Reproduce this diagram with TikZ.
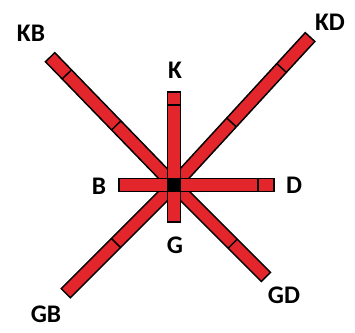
\documentclass[tikz,border=0pt]{standalone}
\usepackage{fontspec}
\setmainfont{Carlito}
\usetikzlibrary{positioning,calc}
\definecolor{armred}{HTML}{E2262B}

\begin{document}
\begin{tikzpicture}[x=0.75pt,y=0.75pt,
  arm/.style={draw=black,line width=1.1pt,fill=armred,line join=miter},
  cut/.style={draw=black,line width=1.1pt},
  lab/.style={inner sep=0pt,font=\fontsize{19}{19}\selectfont\bfseries}]
\useasboundingbox (0,0) rectangle (355,333);
\coordinate (c) at (174,148);
% arms: angle/length, diagonals first so the cross sits on top
\foreach \a/\l in {134.1/178,47.4/201,225/153,315/130,90/93,270/37,180/55,0/100}{
  \begin{scope}[shift={(c)},rotate=\a]
    \draw[arm] (0,-6.5) rectangle (\l,6.5);
  \end{scope}}
% joints along the arms
\foreach \a/\s in {134.1/154,134.1/83,47.4/159,47.4/85,225/82,315/83,90/80,0/84}{
  \begin{scope}[shift={(c)},rotate=\a]
    \draw[cut] (\s,-6.5) -- (\s,6.5);
  \end{scope}}
\fill[black] ($(c)+(-7,-7)$) rectangle ($(c)+(7,7)$);
\node[lab] (kb) at (31,300) {KB};
\node[lab] (k) at (175,263) {K};
\node[lab] (kd) at (330,311) {KD};
\node[lab] (b) at (99,147) {B};
\node[lab] (d) at (294,148) {D};
\node[lab] (g) at (175,88) {G};
\node[lab] (gb) at (46,19) {GB};
\node[lab] (gd) at (284,38) {GD};
\end{tikzpicture}
\end{document}
